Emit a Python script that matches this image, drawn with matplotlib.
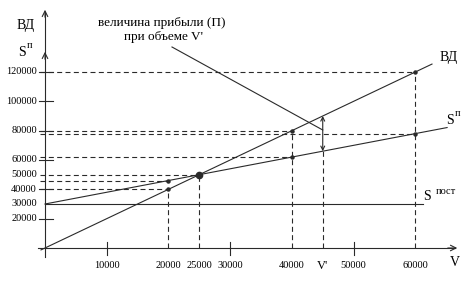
import matplotlib
matplotlib.use('Agg')
import matplotlib.pyplot as plt

# volumes and money values
v_prime = 45000
fixed_cost = 30000
price = 2.0            # revenue per unit (ВД)
var_cost = 0.8         # variable cost per unit
x_tick_vals = [10000, 20000, 25000, 30000, 40000, 45000, 50000, 60000]
x_tick_text = ['10000', '20000', '25000', '30000', '40000', "V'", '50000', '60000']
x_solid_ticks = [10000, 30000, 50000]
y_tick_vals = [20000, 30000, 40000, 50000, 60000, 80000, 100000, 120000]
y_solid_ticks = [20000, 40000, 60000, 80000, 100000, 120000]
# points marked on the lines
rev_pts_v = [20000, 40000, 60000]
cost_pts_v = [20000, 40000, 60000]
break_even_v = 25000
v_end_rev = 62700
v_end_cost = 65150
v_end_fixed = 61300

def revenue(v):
    return price * v

def cost(v):
    return fixed_cost + var_cost * v

# pixel scale of the original drawing
W, H = 475, 289
x0px, y0px = 45, 248
kx, ky = 0.006172, 0.0014667

def to_data(px, py):
    return (px - x0px) / kx, (y0px - py) / ky

plt.rcParams['font.family'] = ['Liberation Serif', 'DejaVu Serif']
fig = plt.figure(figsize=(W / 100, H / 100), dpi=100)
ax = fig.add_axes([0, 0, 1, 1])
ax.set_xlim(to_data(0, 0)[0], to_data(W, 0)[0])
ax.set_ylim(to_data(0, H)[1], to_data(0, 0)[1])
ax.axis('off')

lc = '#2a2a2a'
lw = 0.8
dash = dict(color=lc, lw=lw, dashes=(4.5, 3))

# axes with arrows
ax.plot([to_data(38, 0)[0], to_data(455, 0)[0]], [0, 0], color=lc, lw=lw)
ax.annotate('', xy=(to_data(460, 0)[0], 0), xytext=(to_data(445, 0)[0], 0),
            arrowprops=dict(arrowstyle='->', color=lc, lw=lw))
ax.plot([0, 0], [to_data(0, 257)[1], to_data(0, 12)[1]], color=lc, lw=lw)
ax.annotate('', xy=(0, to_data(0, 7)[1]), xytext=(0, to_data(0, 20)[1]),
            arrowprops=dict(arrowstyle='->', color=lc, lw=lw))
ax.annotate('', xy=(0, to_data(0, 49)[1]), xytext=(0, to_data(0, 62)[1]),
            arrowprops=dict(arrowstyle='->', color=lc, lw=lw))

# tick marks
for v in x_solid_ticks:
    ax.plot([v, v], [to_data(0, 255)[1], to_data(0, 242)[1]], color=lc, lw=lw)
for y in y_solid_ticks:
    ax.plot([to_data(39, 0)[0], to_data(53, 0)[0]], [y, y], color=lc, lw=lw)

# tick labels
for v, t in zip(x_tick_vals, x_tick_text):
    fs = 9 if t == "V'" else 7.5
    ax.text(v, to_data(0, 266)[1], t, ha='center', va='center', fontsize=fs)
for y in y_tick_vals:
    ax.text(to_data(37, 0)[0], y, str(y), ha='right', va='center', fontsize=7.5)

# lines
ax.plot([to_data(41, 0)[0], v_end_rev], [revenue(to_data(41, 0)[0]), revenue(v_end_rev)], color=lc, lw=lw)
ax.plot([0, v_end_cost], [cost(0), cost(v_end_cost)], color=lc, lw=lw)
ax.plot([0, v_end_fixed], [fixed_cost, fixed_cost], color=lc, lw=lw)

# dashed guides
xl = to_data(40, 0)[0]
for v in rev_pts_v:
    ax.plot([xl, v], [revenue(v), revenue(v)], **dash)
    ax.plot([v, v], [0, revenue(v)], **dash)
for v in cost_pts_v:
    ax.plot([xl, v], [cost(v), cost(v)], **dash)
ax.plot([xl, break_even_v], [revenue(break_even_v)] * 2, **dash)
ax.plot([break_even_v, break_even_v], [0, revenue(break_even_v)], **dash)
ax.plot([v_prime, v_prime], [0, cost(v_prime)], **dash)

# points
ax.plot(rev_pts_v, [revenue(v) for v in rev_pts_v], 'o', color=lc, ms=2.2)
ax.plot(cost_pts_v, [cost(v) for v in cost_pts_v], 'o', color=lc, ms=2.2)
ax.plot([break_even_v], [revenue(break_even_v)], 'o', color=lc, ms=4.5)

# profit arrow at V'
ax.annotate('', xy=(v_prime, revenue(v_prime)), xytext=(v_prime, cost(v_prime)),
            arrowprops=dict(arrowstyle='<->', color=lc, lw=lw, shrinkA=0, shrinkB=0,
                            mutation_scale=7))

# annotation
ax.text(*to_data(162, 23), 'величина прибыли (П)', ha='center', va='center', fontsize=9.5)
ax.text(*to_data(164, 37), "при объеме V'", ha='center', va='center', fontsize=9.5)
ax.plot([to_data(172, 0)[0], v_prime], [to_data(0, 47)[1], to_data(0, 130)[1]], color=lc, lw=lw)

# labels
ax.text(*to_data(26, 25), 'ВД', ha='center', va='center', fontsize=10)
ax.text(*to_data(22, 52), 'S', ha='center', va='center', fontsize=10)
ax.text(*to_data(30, 46), 'п', ha='center', va='center', fontsize=7.5)
ax.text(*to_data(449, 58), 'ВД', ha='center', va='center', fontsize=10)
ax.text(*to_data(450, 121), 'S', ha='center', va='center', fontsize=10)
ax.text(*to_data(458, 114), 'п', ha='center', va='center', fontsize=7.5)
ax.text(*to_data(427, 197), 'S', ha='center', va='center', fontsize=10)
ax.text(*to_data(446, 191), 'пост', ha='center', va='center', fontsize=7.5)
ax.text(*to_data(455, 262), 'V', ha='center', va='center', fontsize=10)

fig.savefig('out.png', dpi=100)
